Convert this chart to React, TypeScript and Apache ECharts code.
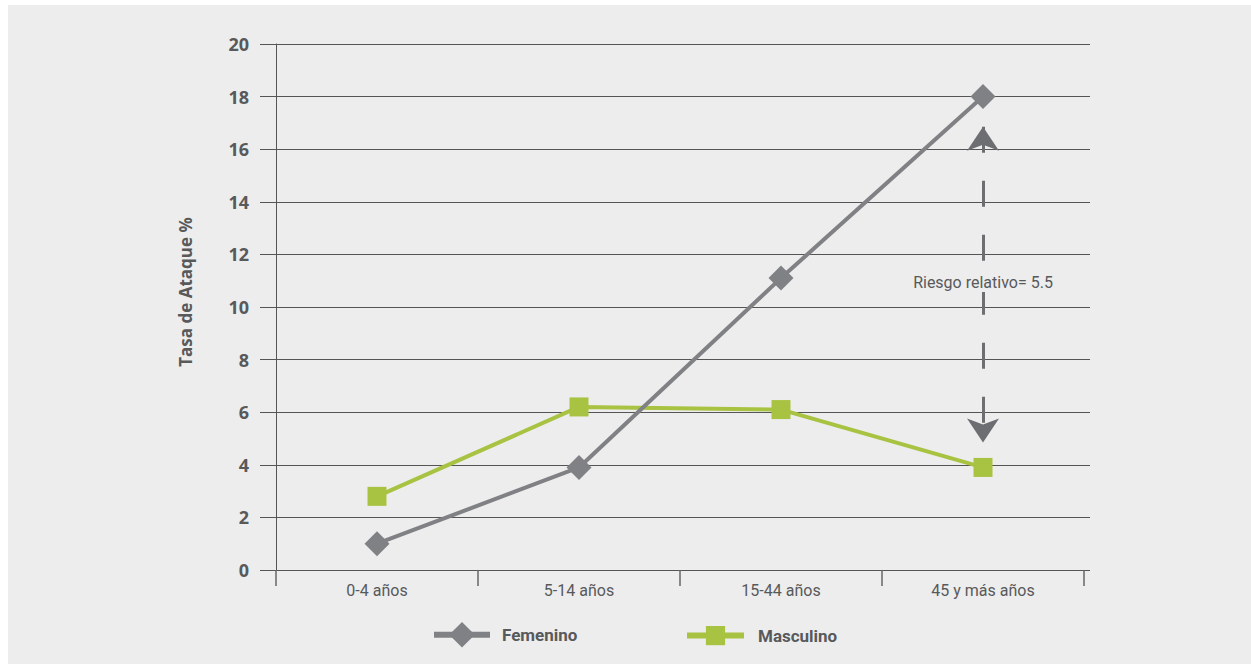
import React, { useEffect, useRef } from "react";
import * as echarts from "echarts";

const categories = ["0-4 años", "5-14 años", "15-44 años", "45 y más años"];
const femenino = [1.0, 3.9, 11.1, 18.0];
const masculino = [2.8, 6.2, 6.1, 3.9];
const yMin = 0;
const yMax = 20;
const yInterval = 2;
const yAxisTitle = "Tasa de Ataque %";
const riskLabel = "Riesgo relativo= 5.5";
const riskCategory = 3;
const riskFrom = 16.85;
const riskTo = 4.85;
const riskLabelAt = 10.95;

const NARROW = "Roboto, sans-serif";
const WIDE = "'Open Sans', 'Noto Sans', sans-serif";
const TEXT = "#58595b";
const GRAY = "#808184";
const GREEN = "#a8c241";

export default function App() {
  const ref = useRef<HTMLDivElement>(null);
  useEffect(() => {
    if (!ref.current) return;
    const chart = echarts.init(ref.current, undefined, { renderer: "svg" });
    chart.setOption({
      animation: false,
      backgroundColor: "#ededed",
      grid: [
        { left: 268, right: 167, top: 39, bottom: 94 },
        { left: 252, right: 161, top: 39, bottom: 94 },
      ],
      xAxis: [
        {
          type: "category",
          gridIndex: 0,
          data: categories,
          boundaryGap: true,
          axisLine: { show: true, lineStyle: { color: "#555", width: 1 } },
          axisTick: { show: true, length: 16, lineStyle: { color: "#666", width: 1.5 } },
          axisLabel: { margin: 12, fontSize: 16, color: TEXT, fontFamily: NARROW },
          splitLine: { show: false },
        },
        { type: "value", gridIndex: 1, min: 0, max: 1, show: false },
      ],
      yAxis: [
        {
          type: "value",
          gridIndex: 0,
          min: yMin,
          max: yMax,
          interval: yInterval,
          axisLine: { show: true, lineStyle: { color: "#555", width: 1 } },
          axisTick: { show: false },
          splitLine: { show: false },
          axisLabel: { margin: 27, fontSize: 18, fontWeight: "bold", color: TEXT, fontFamily: WIDE },
        },
        {
          type: "value",
          gridIndex: 1,
          min: yMin,
          max: yMax,
          interval: yInterval,
          axisLine: { show: false },
          axisTick: { show: false },
          axisLabel: { show: false },
          splitLine: { show: true, lineStyle: { color: "#555", width: 1 } },
        },
      ],
      legend: [
        {
          data: ["Femenino"],
          left: 423,
          top: 617,
          padding: 0,
          itemWidth: 56,
          itemHeight: 32,
          selectedMode: false,
          lineStyle: { width: 6 },
          textStyle: { fontSize: 17, fontWeight: "bold", color: TEXT, fontFamily: NARROW, padding: [0, 0, 0, 7] },
        },
        {
          data: ["Masculino"],
          left: 676,
          top: 621,
          padding: 0,
          itemWidth: 57,
          itemHeight: 24,
          selectedMode: false,
          lineStyle: { width: 6 },
          textStyle: { fontSize: 17, fontWeight: "bold", color: TEXT, fontFamily: NARROW, padding: [0, 0, 0, 9] },
        },
      ],
      graphic: [
        {
          type: "text",
          x: 177,
          y: 287,
          rotation: Math.PI / 2,
          style: {
            text: yAxisTitle,
            fontSize: 17,
            fontWeight: "bold",
            fontFamily: WIDE,
            fill: TEXT,
            align: "center",
            verticalAlign: "middle",
            textAlign: "center",
            textVerticalAlign: "middle",
          },
        },
      ],
      series: [
        {
          name: "Masculino",
          type: "line",
          xAxisIndex: 0,
          yAxisIndex: 0,
          data: masculino,
          symbol: "rect",
          symbolSize: 19,
          color: GREEN,
          itemStyle: { color: GREEN },
          lineStyle: { color: GREEN, width: 4 },
          z: 2,
        },
        {
          name: "Femenino",
          type: "line",
          xAxisIndex: 0,
          yAxisIndex: 0,
          data: femenino,
          symbol: "diamond",
          symbolSize: 25,
          color: GRAY,
          itemStyle: { color: GRAY },
          lineStyle: { color: GRAY, width: 4 },
          z: 3,
          markLine: {
            silent: true,
            symbol: ["arrow", "arrow"],
            symbolSize: [24, 24],
            label: { show: false },
            lineStyle: { color: "#6d6e71", width: 3, type: [26, 28] },
            emphasis: { disabled: true },
            data: [[{ coord: [riskCategory, riskFrom] }, { coord: [riskCategory, riskTo] }]],
          },
          markPoint: {
            silent: true,
            z: 6,
            symbol: "rect",
            symbolSize: [140, 20],
            itemStyle: { color: "#ededed" },
            label: { show: true, position: "inside", formatter: riskLabel, color: TEXT, fontSize: 16, fontFamily: NARROW },
            data: [{ coord: [riskCategory, riskLabelAt], value: riskLabelAt }],
          },
        },
      ],
    });
    return () => chart.dispose();
  }, []);
  return (
    <div
      ref={ref}
      style={{ position: "fixed", left: 8, top: 5, width: 1243, height: 659 }}
    />
  );
}
